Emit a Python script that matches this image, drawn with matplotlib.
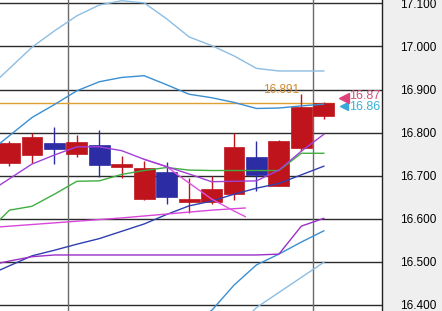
import matplotlib
matplotlib.use("Agg")
import matplotlib.pyplot as plt
import numpy as np

# candles (one per bar, index 0..14)
opens  = [16.729, 16.747, 16.775, 16.750, 16.771, 16.720, 16.645, 16.709, 16.638, 16.638, 16.658, 16.743, 16.677, 16.764, 16.839]
highs  = [16.780, 16.800, 16.812, 16.794, 16.806, 16.746, 16.733, 16.731, 16.694, 16.699, 16.800, 16.780, 16.783, 16.889, 16.872]
lows   = [16.723, 16.730, 16.726, 16.744, 16.696, 16.694, 16.644, 16.634, 16.613, 16.634, 16.644, 16.665, 16.675, 16.758, 16.832]
closes = [16.775, 16.789, 16.761, 16.778, 16.724, 16.727, 16.717, 16.650, 16.645, 16.668, 16.766, 16.702, 16.780, 16.859, 16.868]

# indicator lines, bars -1..14
line_idx = list(range(-1, 15))
bb_up2 = [16.900, 16.949, 16.998, 17.036, 17.071, 17.096, 17.106, 17.101, 17.064, 17.022, 17.002, 16.978, 16.949, 16.943, 16.943, 16.943]
bb_up1 = [16.751, 16.793, 16.835, 16.865, 16.897, 16.918, 16.928, 16.932, 16.911, 16.889, 16.881, 16.870, 16.856, 16.857, 16.862, 16.866]
bb_mid = [16.468, 16.491, 16.514, 16.527, 16.541, 16.554, 16.571, 16.588, 16.610, 16.630, 16.641, 16.657, 16.671, 16.682, 16.702, 16.722]
bb_dn1 = [16.185, 16.189, 16.193, 16.189, 16.185, 16.190, 16.214, 16.244, 16.309, 16.360, 16.387, 16.446, 16.493, 16.518, 16.546, 16.572]
bb_dn2 = [16.030, 16.030, 16.030, 16.020, 16.010, 16.000, 16.040, 16.080, 16.160, 16.240, 16.280, 16.340, 16.394, 16.429, 16.464, 16.499]
ma_green = [16.569, 16.620, 16.629, 16.657, 16.687, 16.688, 16.703, 16.712, 16.719, 16.713, 16.712, 16.712, 16.712, 16.712, 16.752, 16.752]
ma_violet = [16.659, 16.693, 16.727, 16.748, 16.767, 16.767, 16.758, 16.738, 16.721, 16.704, 16.686, 16.687, 16.688, 16.713, 16.757, 16.796]
ma_low = [16.491, 16.502, 16.512, 16.516, 16.516, 16.516, 16.516, 16.516, 16.516, 16.516, 16.516, 16.516, 16.516, 16.518, 16.583, 16.601]

# short magenta lines
mag1_x = [6, 7, 8, 9, 10, 10.5]
mag1_y = [16.738, 16.721, 16.683, 16.646, 16.618, 16.605]
mag2_x = [-1, 5, 9, 10.5]
mag2_y = [16.579, 16.602, 16.620, 16.625]

price_line = 16.868
high_label = "16.891"
bid_label, ask_label = "16.87", "16.86"
yticks = [16.4, 16.5, 16.6, 16.7, 16.8, 16.9, 17.0, 17.1]
vgrid = [2.62, 13.53]

fig = plt.figure(figsize=(4.42, 3.11), dpi=100)
fig.patch.set_facecolor('#efefef')
ax = fig.add_axes([0, 0, 381.5 / 442, 1])
ax.set_facecolor('white')
ax.set_xlim(-0.423, 16.57)
ax.set_ylim(16.386, 17.1077)

for y in yticks:
    ax.axhline(y, color='#2a2a2a', lw=1.0, zorder=1)
for x in vgrid:
    ax.axvline(x, color='#6a6a6a', lw=1.0, zorder=1)

n = len(opens)
ax.hlines(price_line, -0.5, n - 0.55, color='#e0a030', lw=1.0, zorder=2)

# candles
for i in range(n):
    o, h, l, c = opens[i], highs[i], lows[i], closes[i]
    col = '#bf141c' if c >= o else '#2c2ca4'
    ax.vlines(i, l, h, color=col, lw=1.0, zorder=3)
    ax.bar(i, max(abs(c - o), 0.004), bottom=min(o, c), width=0.93,
           color=col, edgecolor=col, lw=0.5, zorder=3)

ax.plot(line_idx, bb_up2, color='#8cbde3', lw=1.0, zorder=4)
ax.plot(line_idx, bb_dn2, color='#8cbde3', lw=1.0, zorder=4)
ax.plot(line_idx, bb_up1, color='#3a8fd2', lw=1.0, zorder=4)
ax.plot(line_idx, bb_dn1, color='#3a8fd2', lw=1.0, zorder=4)
ax.plot(line_idx, bb_mid, color='#2f3fb0', lw=1.0, zorder=4)
ax.plot(line_idx, ma_green, color='#3fae3f', lw=1.0, zorder=4)
ax.plot(line_idx, ma_low, color='#9a30c8', lw=1.0, zorder=4)
ax.plot(mag2_x, mag2_y, color='#d848d8', lw=1.0, zorder=4)
ax.plot(mag1_x, mag1_y, color='#e050e0', lw=1.0, zorder=4)
ax.plot(line_idx, ma_violet, color='#a040d8', lw=1.0, zorder=4)

ax.text(12.1, 16.900, high_label, color='#d08a30', fontsize=8.5,
        family=['Liberation Sans', 'DejaVu Sans'], ha='center', va='center', zorder=2)

ax.plot([14.88], [16.862], marker='<', color='#3aa8d8', markersize=6, clip_on=False, zorder=5)
ax.plot([14.88], [16.880], marker='<', color='#e0407a', markersize=7, clip_on=False, zorder=5)
ax.text(15.12, 16.886, bid_label, color='#d0507e', fontsize=9,
        family=['Liberation Sans', 'DejaVu Sans'], ha='left', va='center', zorder=5)
ax.text(15.12, 16.859, ask_label, color='#3ab0d6', fontsize=9,
        family=['Liberation Sans', 'DejaVu Sans'], ha='left', va='center', zorder=5)

ax.yaxis.tick_right()
ax.set_yticks(yticks)
ax.set_yticklabels([f"{v:.3f}" for v in yticks],
                   family=['Liberation Sans Narrow', 'Liberation Sans', 'DejaVu Sans'], fontsize=8.5)
ax.tick_params(axis='y', length=0, pad=13)
ax.set_xticks([])
for side in ['left', 'top', 'bottom']:
    ax.spines[side].set_visible(False)
ax.spines['right'].set_color('#202020')
ax.spines['right'].set_linewidth(1.0)

fig.savefig('out.png', dpi=100, facecolor=fig.get_facecolor())
